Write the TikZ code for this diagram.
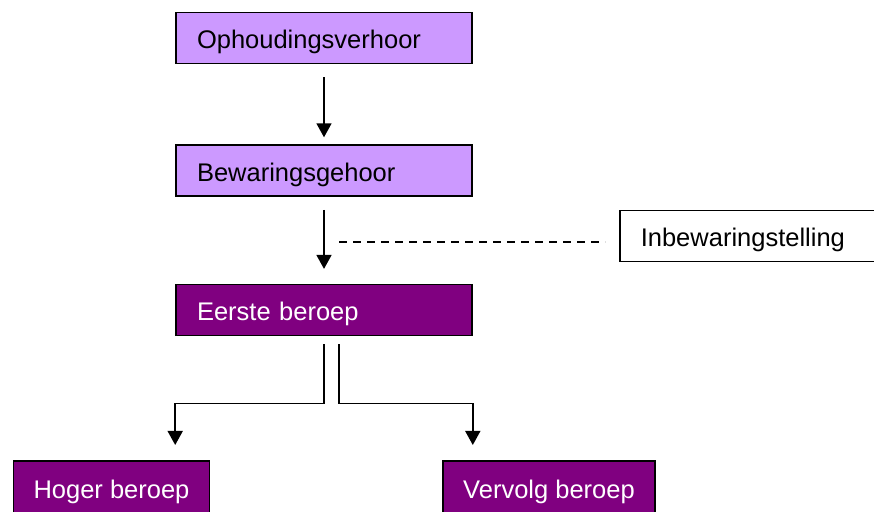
\documentclass[tikz,border=0pt]{standalone}
\usepackage{fontspec}
\setmainfont{Liberation Sans}
\usetikzlibrary{arrows.meta, positioning, calc}
\definecolor{lila}{HTML}{CC99FF}
\definecolor{paars}{HTML}{800080}

\begin{document}
\begin{tikzpicture}[
        stage/.style={draw, rectangle, line width=0.8pt, text width=127pt, align=left, inner xsep=10.5pt, minimum height=25.5pt, text height=13.3pt, text depth=2.7pt, font=\fontsize{12.75}{15}\selectfont},
        outcome/.style={draw, rectangle, line width=0.8pt, inner xsep=10pt, minimum height=27pt, text height=13.3pt, text depth=2.7pt, fill=paars, text=white, font=\fontsize{12.75}{15}\selectfont},
        arrow/.style={line width=0.8pt, -{Triangle[width=7.5pt, length=7pt]}},
        dashline/.style={line width=0.7pt, dash pattern=on 4pt off 3pt}
    ]
        \useasboundingbox (0,0) rectangle (437pt,-256pt);

        \node[stage, fill=lila] (oph) at (162pt,-19pt) {Ophoudingsverhoor};
        \node[stage, fill=lila, below=40pt of oph] (bew) {Bewaringsgehoor};
        \node[stage, fill=paars, text=white, below=43.5pt of bew] (eerste) {Eerste beroep};
        \node[stage, anchor=west] (inbew) at (309.5pt,-118pt) {Inbewaringstelling};

        \node[outcome, anchor=north] (hoger) at (55.75pt,-230pt) {Hoger beroep};
        \node[outcome, anchor=north] (vervolg) at (274.5pt,-230pt) {Vervolg beroep};

        \draw[arrow, shorten <=6.5pt, shorten >=3.5pt] (oph.south) -- (bew.north);
        \draw[arrow, shorten <=6.5pt, shorten >=7.5pt] (bew.south) -- (eerste.north);
        \draw[dashline] ($(inbew.west -| bew.south)+(7.5pt,-3pt)$) -- ($(inbew.west)+(-7pt,-3pt)$);

        \draw[arrow, shorten >=7.5pt] ([yshift=-4pt]eerste.south) -- ++(0,-29.5pt) -| (eerste.west |- hoger.north);
        \draw[arrow, shorten >=7.5pt] ([xshift=7.5pt, yshift=-4pt]eerste.south) -- ++(0,-29.5pt) -| (eerste.east |- vervolg.north);

    \end{tikzpicture}
\end{document}
